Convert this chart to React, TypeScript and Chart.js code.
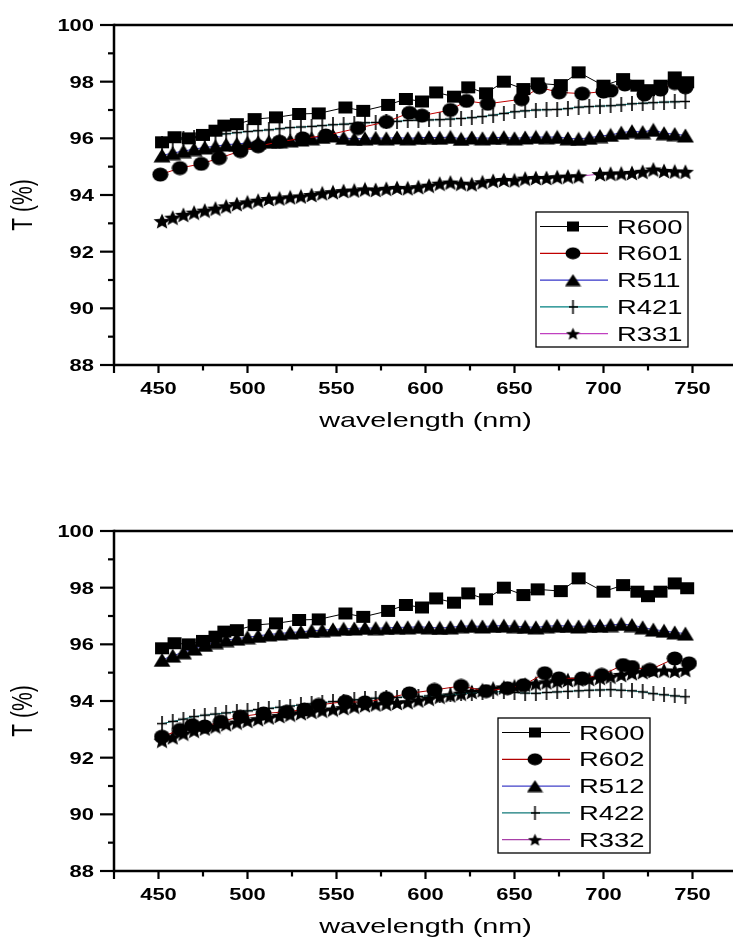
import React, { useEffect, useRef } from 'react';
import { Chart, registerables } from 'chart.js';
Chart.register(...registerables);

const SX = 1.37;
const FONT = '"Liberation Sans", Arial, sans-serif';

// ---------- data ----------
const WL_R600 = [452, 459, 467, 475, 482, 487, 494, 504, 516, 529, 540, 555, 565, 579, 589, 598, 606, 616, 624, 634, 644, 655, 663, 676, 686, 700, 711, 719, 725, 732, 740, 747];
const T_R600 = [95.86, 96.04, 96.0, 96.12, 96.27, 96.45, 96.5, 96.68, 96.74, 96.86, 96.88, 97.09, 96.97, 97.18, 97.39, 97.3, 97.62, 97.47, 97.8, 97.59, 98.0, 97.74, 97.94, 97.88, 98.33, 97.86, 98.09, 97.86, 97.7, 97.86, 98.15, 97.98];

const WL_R601 = [451, 462, 474, 484, 496, 506, 518, 531, 544, 562, 578, 591, 598, 614, 623, 635, 654, 664, 675, 688, 700, 704, 712, 723, 732, 740, 746];
const T_R601 = [94.72, 94.95, 95.1, 95.3, 95.55, 95.72, 95.88, 96.0, 96.1, 96.36, 96.58, 96.9, 96.8, 97.0, 97.32, 97.22, 97.38, 97.8, 97.62, 97.58, 97.65, 97.68, 97.9, 97.55, 97.72, 97.95, 97.8];

const WL_DENSE = [452, 458, 464, 470, 476, 482, 488, 494, 500, 506, 512, 518, 524, 530, 536, 542, 548, 554, 560, 566, 572, 578, 584, 590, 596, 602, 608, 614, 620, 626, 632, 638, 644, 650, 656, 662, 668, 674, 680, 686, 692, 698, 704, 710, 716, 722, 728, 734, 740, 746];

const T_R511 = [95.40, 95.48, 95.55, 95.62, 95.68, 95.72, 95.78, 95.80, 95.84, 95.86,
  95.88, 95.90, 95.93, 95.96, 96.00, 96.05, 96.10, 96.02, 95.98, 96.00,
  96.02, 96.00, 96.03, 96.00, 96.02, 96.04, 96.02, 96.05, 95.98, 96.03,
  96.00, 96.02, 96.04, 96.00, 96.03, 96.05, 96.04, 96.05, 96.00, 95.98,
  96.02, 96.08, 96.12, 96.20, 96.25, 96.22, 96.30, 96.18, 96.15, 96.10];

const T_R421 = [95.82, 95.92, 95.98, 96.03, 96.08, 96.12, 96.16, 96.20, 96.24, 96.27,
  96.30, 96.34, 96.38, 96.40, 96.42, 96.45, 96.48, 96.50, 96.52, 96.55,
  96.56, 96.58, 96.60, 96.63, 96.64, 96.65, 96.66, 96.68, 96.70, 96.73,
  96.77, 96.82, 96.88, 96.94, 96.97, 97.00, 97.01, 97.02, 97.05, 97.10,
  97.12, 97.14, 97.15, 97.18, 97.22, 97.24, 97.26, 97.28, 97.29, 97.30];

const WL_R331 = [452, 458, 464, 470, 476, 482, 488, 494, 500, 506, 512, 518, 524, 530, 536, 542, 548, 554, 560, 566, 572, 578, 584, 590, 596, 602, 608, 614, 620, 626, 632, 638, 644, 650, 656, 662, 668, 674, 680, 686, 698, 704, 710, 716, 722, 728, 734, 740, 746];
const T_R331 = [93.08, 93.20, 93.30, 93.38, 93.45, 93.52, 93.60, 93.68, 93.74, 93.80,
  93.86, 93.88, 93.92, 93.95, 94.00, 94.06, 94.10, 94.14, 94.16, 94.20,
  94.18, 94.22, 94.25, 94.24, 94.28, 94.33, 94.40, 94.44, 94.40, 94.38,
  94.45, 94.50, 94.53, 94.52, 94.58, 94.60, 94.60, 94.63, 94.65, 94.66,
  94.74, 94.75, 94.76, 94.78, 94.82, 94.90, 94.85, 94.83, 94.82];

const WL_R602 = [452, 462, 469, 476, 485, 496, 509, 522, 532, 540, 555, 566, 578, 591, 605, 620, 634, 646, 655, 667, 675, 688, 699, 711, 716, 726, 740, 748];
const T_R602 = [92.74, 92.98, 93.15, 93.10, 93.27, 93.45, 93.56, 93.62, 93.70, 93.86, 93.98, 93.95, 94.10, 94.27, 94.39, 94.53, 94.35, 94.45, 94.56, 94.98, 94.80, 94.80, 94.92, 95.27, 95.20, 95.10, 95.50, 95.33];

const T_R512 = [95.45, 95.60, 95.72, 95.85, 95.98, 96.08, 96.15, 96.20, 96.25, 96.30,
  96.35, 96.38, 96.42, 96.44, 96.48, 96.50, 96.53, 96.55, 96.56, 96.58,
  96.57, 96.58, 96.60, 96.60, 96.62, 96.60, 96.58, 96.60, 96.64, 96.65,
  96.63, 96.65, 96.66, 96.64, 96.62, 96.60, 96.64, 96.66, 96.65, 96.63,
  96.65, 96.66, 96.68, 96.72, 96.68, 96.60, 96.52, 96.48, 96.42, 96.38];

const T_R422 = [93.20, 93.28, 93.36, 93.45, 93.50, 93.54, 93.58, 93.62, 93.65, 93.70,
  93.74, 93.78, 93.82, 93.86, 93.90, 93.94, 93.98, 94.00, 94.04, 94.08,
  94.10, 94.12, 94.13, 94.15, 94.16, 94.18, 94.20, 94.22, 94.26, 94.28,
  94.30, 94.32, 94.33, 94.30, 94.28, 94.27, 94.30, 94.32, 94.34, 94.36,
  94.38, 94.39, 94.40, 94.38, 94.36, 94.32, 94.26, 94.22, 94.18, 94.15];

const T_R332 = [92.60, 92.72, 92.85, 92.95, 93.03, 93.10, 93.18, 93.24, 93.30, 93.36,
  93.42, 93.47, 93.52, 93.57, 93.62, 93.66, 93.70, 93.75, 93.80, 93.85,
  93.88, 93.90, 93.93, 93.96, 94.02, 94.08, 94.15, 94.20, 94.26, 94.32,
  94.38, 94.44, 94.48, 94.52, 94.58, 94.62, 94.66, 94.70, 94.74, 94.76,
  94.78, 94.82, 94.86, 94.92, 94.98, 95.02, 95.06, 95.08, 95.06, 95.10];

const X_TICKS = [425, 450, 475, 500, 525, 550, 575, 600, 625, 650, 675, 700, 725, 750, 775];
const X_LABELS = [450, 500, 550, 600, 650, 700, 750];
const Y_TICKS = [88, 89, 90, 91, 92, 93, 94, 95, 96, 97, 98, 99, 100];
const Y_LABELS = [88, 90, 92, 94, 96, 98, 100];
const X_TITLE = 'wavelength (nm)';
const Y_TITLE = 'T (%)';

type Shape = 'square' | 'circle' | 'triangle' | 'cross' | 'star';
interface SeriesDef { label: string; wl: number[]; t: number[]; color: string; shape: Shape; }

const TOP_SERIES: SeriesDef[] = [
  { label: 'R600', wl: WL_R600, t: T_R600, color: '#000000', shape: 'square' },
  { label: 'R601', wl: WL_R601, t: T_R601, color: '#c00000', shape: 'circle' },
  { label: 'R511', wl: WL_DENSE, t: T_R511, color: '#3434c8', shape: 'triangle' },
  { label: 'R421', wl: WL_DENSE, t: T_R421, color: '#008080', shape: 'cross' },
  { label: 'R331', wl: WL_R331, t: T_R331, color: '#c040c0', shape: 'star' },
];
const BOTTOM_SERIES: SeriesDef[] = [
  { label: 'R600', wl: WL_R600, t: T_R600, color: '#000000', shape: 'square' },
  { label: 'R602', wl: WL_R602, t: T_R602, color: '#b00000', shape: 'circle' },
  { label: 'R512', wl: WL_DENSE, t: T_R512, color: '#4040c8', shape: 'triangle' },
  { label: 'R422', wl: WL_DENSE, t: T_R422, color: '#107878', shape: 'cross' },
  { label: 'R332', wl: WL_DENSE, t: T_R332, color: '#a840a8', shape: 'star' },
];

// ---------- markers ----------
function makeMarker(shape: Shape, big: boolean): HTMLCanvasElement {
  const sizes: Record<Shape, [number, number]> = big
    ? { square: [16, 14], circle: [17, 15], triangle: [18, 15], cross: [10, 15], star: [18, 16] }
    : { square: [14, 12], circle: [16, 13], triangle: [17, 13], cross: [9, 14], star: [15, 13] };
  const [w, h] = sizes[shape];
  const c = document.createElement('canvas');
  c.width = w; c.height = h;
  const g = c.getContext('2d')!;
  g.fillStyle = '#000'; g.strokeStyle = '#000';
  if (shape === 'square') {
    g.fillRect(1, 1, w - 2, h - 2);
  } else if (shape === 'circle') {
    g.beginPath(); g.ellipse(w / 2, h / 2, w / 2 - 0.5, h / 2 - 0.5, 0, 0, Math.PI * 2); g.fill();
  } else if (shape === 'triangle') {
    g.beginPath(); g.moveTo(w / 2, 0.5); g.lineTo(w - 0.5, h - 0.5); g.lineTo(0.5, h - 0.5); g.closePath(); g.fill();
  } else if (shape === 'cross') {
    g.lineWidth = 1.6;
    g.beginPath(); g.moveTo(w / 2, 0); g.lineTo(w / 2, h); g.moveTo(0, h / 2); g.lineTo(w, h / 2); g.stroke();
  } else {
    const pts: [number, number][] = [];
    for (let k = 0; k < 10; k++) {
      const a = -Math.PI / 2 + (k * Math.PI) / 5;
      const r = k % 2 === 0 ? 1 : 0.45;
      pts.push([Math.cos(a) * r, Math.sin(a) * r]);
    }
    const minX = Math.min(...pts.map(p => p[0])), maxX = Math.max(...pts.map(p => p[0]));
    const minY = Math.min(...pts.map(p => p[1])), maxY = Math.max(...pts.map(p => p[1]));
    g.beginPath();
    pts.forEach(([px, py], i) => {
      const x = 0.5 + ((px - minX) / (maxX - minX)) * (w - 1);
      const y = 0.5 + ((py - minY) / (maxY - minY)) * (h - 1);
      if (i === 0) g.moveTo(x, y); else g.lineTo(x, y);
    });
    g.closePath(); g.fill();
  }
  return c;
}

function textStretched(ctx: CanvasRenderingContext2D, s: string, x: number, y: number, align: CanvasTextAlign) {
  ctx.save();
  ctx.translate(x, y);
  ctx.scale(SX, 1);
  ctx.textAlign = align;
  ctx.textBaseline = 'alphabetic';
  ctx.fillText(s, 0, 0);
  ctx.restore();
}

interface PanelProps { series: SeriesDef[]; top: number; height: number; legendLeft: number; }

const CW = 745;

function Panel({ series, top, height, legendLeft }: PanelProps) {
  const ref = useRef<HTMLCanvasElement | null>(null);
  useEffect(() => {
    const canvas = ref.current!;
    const markers: Record<string, HTMLCanvasElement> = {};
    const legendMarkers: Record<string, HTMLCanvasElement> = {};
    (['square', 'circle', 'triangle', 'cross', 'star'] as Shape[]).forEach(s => {
      markers[s] = makeMarker(s, true);
      legendMarkers[s] = makeMarker(s, false);
    });

    const frame = {
      id: 'frame',
      afterDraw(chart: any) {
        const ctx: CanvasRenderingContext2D = chart.ctx;
        const a = chart.chartArea;
        const xs = chart.scales.x, ys = chart.scales.y;
        ctx.save();
        ctx.strokeStyle = '#000';
        ctx.fillStyle = '#000';
        ctx.lineWidth = 2.5;
        ctx.lineCap = 'butt';
        const line = (x1: number, y1: number, x2: number, y2: number) => {
          ctx.beginPath(); ctx.moveTo(x1, y1); ctx.lineTo(x2, y2); ctx.stroke();
        };
        line(a.left, a.top - 1.2, a.left, a.bottom + 1.2);
        line(a.left, a.bottom, CW, a.bottom);
        line(a.left, a.top, CW, a.top);
        ctx.lineWidth = 2.2;
        Y_TICKS.forEach(v => {
          const y = ys.getPixelForValue(v);
          const len = v % 2 === 0 ? 14 : 6;
          line(a.left - len, y, a.left, y);
        });
        X_TICKS.forEach(v => {
          const x = xs.getPixelForValue(v);
          const len = v % 50 === 0 || v === 425 ? 8 : 5.5;
          line(x, a.bottom, x, a.bottom + len);
        });
        ctx.font = `bold 16px ${FONT}`;
        X_LABELS.forEach(v => {
          textStretched(ctx, String(v), xs.getPixelForValue(v), a.bottom + 29, 'center');
        });
        Y_LABELS.forEach(v => {
          textStretched(ctx, String(v), 94, ys.getPixelForValue(v) + 6, 'right');
        });
        ctx.font = `21px ${FONT}`;
        textStretched(ctx, X_TITLE, (a.left + a.right) / 2, a.bottom + 62, 'center');
        ctx.save();
        ctx.translate(24, (a.top + a.bottom) / 2 + 10);
        ctx.scale(SX, 1);
        ctx.rotate(-Math.PI / 2);
        ctx.textAlign = 'center';
        ctx.textBaseline = 'middle';
        ctx.fillText(Y_TITLE, 0, 0);
        ctx.restore();

        // legend
        const bx = legendLeft, by = a.top + 187, bw = 152, bh = 135;
        ctx.fillStyle = '#fff';
        ctx.fillRect(bx, by, bw, bh);
        ctx.lineWidth = 1.3;
        ctx.strokeStyle = '#000';
        ctx.strokeRect(bx, by, bw, bh);
        ctx.font = `20px ${FONT}`;
        series.forEach((s, i) => {
          const ry = by + 14.5 + i * 26.8;
          ctx.strokeStyle = s.color;
          ctx.lineWidth = 1.2;
          line(bx + 4, ry, bx + 72, ry);
          const m = legendMarkers[s.shape];
          ctx.drawImage(m, bx + 37 - m.width / 2, ry - m.height / 2);
          ctx.fillStyle = '#000';
          textStretched(ctx, s.label, bx + 81, ry + 7, 'left');
        });
        ctx.restore();
      },
    };

    const chart = new Chart(canvas, {
      type: 'line',
      data: {
        datasets: series.map(s => ({
          label: s.label,
          data: s.wl.map((x, i) => ({ x, y: s.t[i] })),
          borderColor: s.color,
          backgroundColor: '#000',
          borderWidth: 1,
          pointStyle: markers[s.shape] as any,
          pointRadius: 7,
          pointHoverRadius: 7,
          fill: false,
          tension: 0,
        })),
      },
      options: {
        responsive: false,
        animation: false,
        events: [],
        layout: { padding: { left: 114, top: 25, right: CW - 740, bottom: height - 365 } },
        scales: {
          x: { type: 'linear', min: 425, max: 775, display: false },
          y: { type: 'linear', min: 88, max: 100, display: false },
        },
        plugins: { legend: { display: false }, tooltip: { enabled: false } },
      },
      plugins: [frame],
    } as any);
    return () => chart.destroy();
  }, [series, height, legendLeft]);

  return (
    <canvas
      ref={ref}
      width={CW}
      height={height}
      style={{ position: 'absolute', left: 0, top, width: CW, height }}
    />
  );
}

export default function App() {
  return (
    <div style={{ position: 'absolute', left: 0, top: 0, width: 733, height: 940, overflow: 'hidden', background: '#fff' }}>
      <Panel series={TOP_SERIES} top={0} height={440} legendLeft={536} />
      <Panel series={BOTTOM_SERIES} top={506} height={434} legendLeft={498} />
    </div>
  );
}
